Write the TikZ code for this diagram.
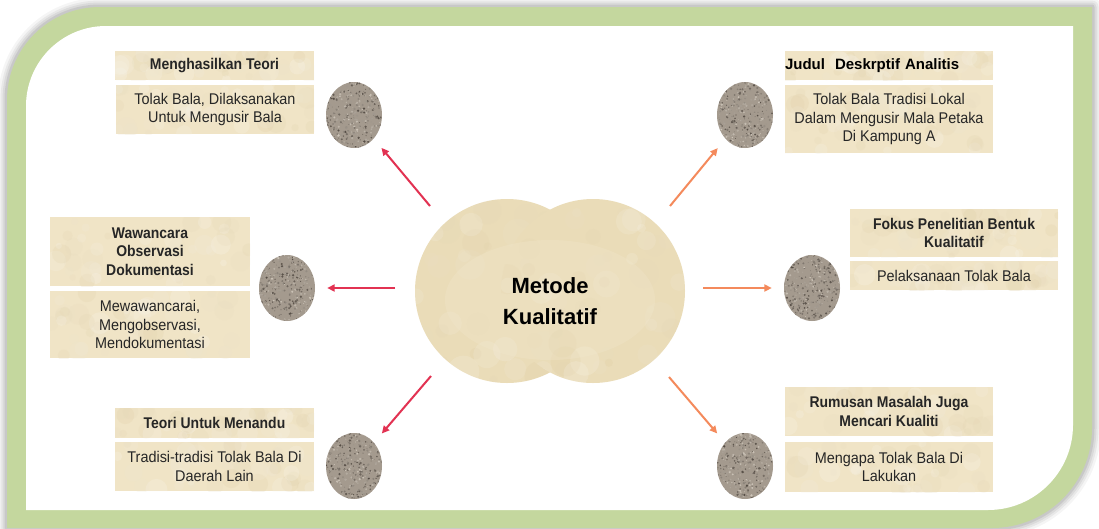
\documentclass[tikz,border=0pt]{standalone}
\usepackage{fontspec}
\setmainfont{Liberation Sans}
\newfontfamily\narrowfont[FakeStretch=0.9]{Liberation Sans}
\newfontfamily\bodyfont[FakeStretch=0.93]{Liberation Sans}
\usetikzlibrary{arrows.meta,shapes.geometric}
\definecolor{frameg}{RGB}{196,215,158}
\definecolor{boxf}{RGB}{240,228,198}
\definecolor{boxd}{RGB}{218,200,156}
\definecolor{ink}{RGB}{38,38,38}
\definecolor{crim}{RGB}{226,50,82}
\definecolor{orng}{RGB}{244,138,92}
\definecolor{granite}{RGB}{164,154,142}
\definecolor{grdark}{RGB}{70,62,55}
\definecolor{grlight}{RGB}{214,206,194}
\definecolor{hubf}{RGB}{234,220,184}
\definecolor{hubd}{RGB}{214,194,146}
\definecolor{hubl}{RGB}{242,232,206}
\begin{document}
\begin{tikzpicture}[x=1pt,y=-1pt,
  tbox/.style 2 args={rectangle, inner sep=0pt, fill=boxf, minimum width=#1, minimum height=#2,
    path picture={\foreach \k in {1,...,45}{%
      \pgfmathsetmacro\dx{(rnd-0.5)*#1}\pgfmathsetmacro\dy{(rnd-0.5)*#2}%
      \pgfmathsetmacro\rr{3+8*rnd}\pgfmathsetmacro\pc{100*rnd}%
      \fill[boxd!\pc!white,opacity=0.18] ([xshift=\dx pt,yshift=\dy pt]path picture bounding box.center) circle[radius=\rr pt];}}},
  ttl/.style={font=\narrowfont\fontsize{15.5}{18.5}\selectfont\bfseries, text=ink, align=center},
  bdy/.style={font=\bodyfont\fontsize{15.5}{18.7}\selectfont, text=ink, align=center},
  stone/.style={ellipse, inner sep=0pt, minimum width=56, minimum height=66, fill=granite,
    path picture={\foreach \k in {1,...,420}{%
      \pgfmathsetmacro\dx{28*rand}\pgfmathsetmacro\dy{33*rand}%
      \pgfmathsetmacro\rr{0.4+0.9*rnd}\pgfmathsetmacro\pc{100*rnd}%
      \fill[grdark!\pc!grlight,opacity=0.85] ([xshift=\dx pt,yshift=\dy pt]path picture bounding box.center) circle[radius=\rr pt];}}},
  hubc/.style={circle, inner sep=0pt, minimum size=184, fill=hubf,
    path picture={\foreach \k in {1,...,60}{%
      \pgfmathsetmacro\dx{92*rand}\pgfmathsetmacro\dy{92*rand}%
      \pgfmathsetmacro\rr{4+12*rnd}\pgfmathsetmacro\pc{100*rnd}%
      \fill[hubd!\pc!white,opacity=0.15] ([xshift=\dx pt,yshift=\dy pt]path picture bounding box.center) circle[radius=\rr pt];}}},
  arrL/.style={draw=crim, line width=2pt, -{Triangle[length=7.5pt,width=7pt]}, shorten >=12pt},
  arrR/.style={draw=orng, line width=2pt, -{Triangle[length=7.5pt,width=7pt]}, shorten >=12pt}]
\pgfmathsetseed{11}
\useasboundingbox (0,0) rectangle (1099,528);
\fill[white] (0,0) rectangle (1099,528);
% frame shadow
\foreach \w/\o in {18/0.04,13/0.05,9/0.06,5/0.08}{
  \draw[black,opacity=\o,line width=\w pt,line join=round]
    (7,100) .. controls (7,48.6) and (48.6,7) .. (100,7) -- (1092,7) -- (1092,428)
    .. controls (1092,483.2) and (1047.2,528) .. (992,528) -- (7,528) -- cycle;
}
% green frame
\fill[frameg] (7,100) .. controls (7,48.6) and (48.6,7) .. (100,7) -- (1092,7) -- (1092,428)
    .. controls (1092,483.2) and (1047.2,528) .. (992,528) -- (7,528) -- cycle;
\fill[white] (26,106) .. controls (26,61.8) and (61.8,26) .. (106,26) -- (1073,26) -- (1073,425)
    .. controls (1073,471.9) and (1034.9,510) .. (988,510) -- (26,510) -- cycle;

% central hub
\node[hubc] (hubL) at (507,291) {};
\node[hubc] (hubR) at (593,291) {};
\fill[hubl,opacity=0.3] (550,300) ellipse [x radius=105pt, y radius=60pt];
\node[font=\fontsize{22}{31}\selectfont\bfseries, text=black, align=center] (hub) at (550,301) {Metode\\Kualitatif};

% top left
\node[tbox={199}{29}, ttl] (t1) at (214.5,65.5) {Menghasilkan Teori};
\node[tbox={198}{49}, bdy] (b1) at (215,109.5) {Tolak Bala, Dilaksanakan\\Untuk Mengusir Bala};
\node[stone] (e1) at (354,115) {};
% top right
\node[tbox={208}{29}, font=\fontsize{15}{18}\selectfont\bfseries, text=black, text width=208, align=left] (t2) at (889,65.5) {Judul~ Deskrptif Analitis};
\node[tbox={208}{68}, bdy] (b2) at (889,119) {Tolak Bala Tradisi Lokal\\Dalam Mengusir Mala Petaka\\Di Kampung A};
\node[stone] (e2) at (745,115) {};
% middle left
\node[tbox={200}{69}, ttl] (t3) at (150,251.5) {Wawancara\\Observasi\\Dokumentasi};
\node[tbox={200}{67}, bdy] (b3) at (150,324.5) {Mewawancarai,\\Mengobservasi,\\Mendokumentasi};
\node[stone] (e3) at (287,288) {};
% middle right
\node[tbox={208}{48}, ttl] (t4) at (954,233) {Fokus Penelitian Bentuk\\Kualitatif};
\node[tbox={208}{29}, bdy] (b4) at (954,275.5) {Pelaksanaan Tolak Bala};
\node[stone] (e4) at (812,288) {};
% bottom left
\node[tbox={199}{30}, ttl] (t5) at (214.5,423) {Teori Untuk Menandu};
\node[tbox={199}{49}, bdy] (b5) at (214.5,466.5) {Tradisi-tradisi Tolak Bala Di\\Daerah Lain};
\node[stone] (e5) at (354,466) {};
% bottom right
\node[tbox={208}{49}, ttl] (t6) at (889,411.5) {Rumusan Masalah Juga\\Mencari Kualiti};
\node[tbox={208}{50}, bdy] (b6) at (889,467) {Mengapa Tolak Bala Di\\Lakukan};
\node[stone] (e6) at (745,466) {};

% arrow start points
\coordinate (s1) at (430,206);
\coordinate (s2) at (670,206);
\coordinate (s3) at (395,288);
\coordinate (s4) at (703,288);
\coordinate (s5) at (431,376);
\coordinate (s6) at (669,377);
\draw[arrL] (s1) -- (e1);
\draw[arrR] (s2) -- (e2);
\draw[arrL] (s3) -- (e3);
\draw[arrR] (s4) -- (e4);
\draw[arrL] (s5) -- (e5);
\draw[arrR] (s6) -- (e6);
\end{tikzpicture}
\end{document}
